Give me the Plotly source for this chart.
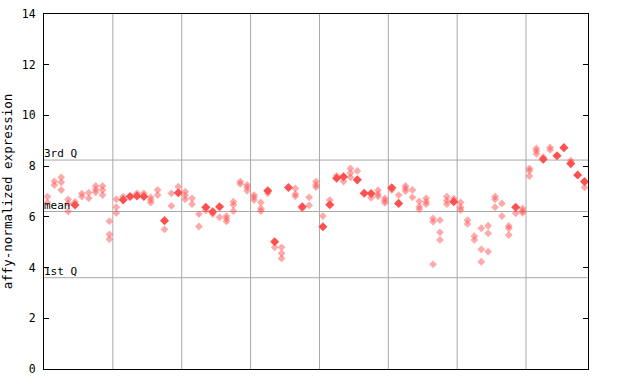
import plotly.graph_objects as go

# Per-sample replicate values (light/checkered diamonds) and solid diamonds
checker_vals = [
    [6.8, 6.57], [7.4, 7.25], [7.56, 7.36, 7.06], [6.69, 6.53, 6.21], [6.59],
    [6.92, 6.8], [6.95, 6.73], [7.22, 7.08, 6.97], [7.22, 7.06, 6.86], [5.83, 5.31, 5.12],
    [6.69, 6.38, 6.15], [6.8], [], [6.93], [6.93],
    [6.77, 6.66, 6.56], [7.06, 6.86], [5.51], [6.93, 6.43], [7.19],
    [6.99, 6.85, 6.69], [6.73, 6.5], [6.11, 5.62], [6.25], [6.11],
    [5.98], [6.03, 5.93, 5.82], [6.6, 6.47, 6.23], [7.39, 7.3], [7.26, 7.16, 7.03],
    [6.86, 6.77, 6.66], [6.57, 6.33, 6.23], [6.93], [4.8], [4.8, 4.56, 4.36],
    [], [7.12, 6.9, 6.81], [6.33], [6.77, 6.45], [7.39, 7.26, 7.17],
    [6.03], [6.66], [7.62], [7.39], [7.91, 7.73, 7.56],
    [7.81], [], [6.75], [7.05, 6.9, 6.81], [6.73, 6.64, 6.55],
    [7.06], [6.86], [7.22, 7.12, 7.02], [7.06, 6.77], [6.61, 6.4, 6.3],
    [6.73, 6.6, 6.5], [5.94, 5.81, 4.13], [5.87, 5.39, 5.09], [6.8, 6.64, 6.5], [6.72],
    [6.57, 6.38, 6.27], [5.87, 5.72], [5.24, 5.09], [5.55, 4.72, 4.23], [5.65, 5.35, 4.63],
    [6.8, 6.69, 6.38], [6.53, 6.03], [5.64, 5.55, 5.28], [6.14], [6.33, 6.23, 6.16],
    [7.91, 7.82, 7.61], [8.7, 8.6, 8.48], [8.35], [8.74, 8.64], [],
    [], [8.22], [], [7.16],
]
solid_vals = [
    [], [], [], [], [6.47],
    [], [], [], [], [],
    [], [6.67], [6.8], [6.82], [6.8],
    [], [], [5.85], [], [6.95],
    [], [], [], [6.38], [6.2],
    [6.4], [], [], [], [],
    [], [], [7.03], [5.02], [],
    [7.16], [], [6.4], [], [],
    [5.61], [6.48], [7.52], [7.58], [],
    [7.46], [6.93], [6.92], [], [],
    [7.15], [6.53], [], [], [],
    [], [], [], [], [6.6],
    [], [], [], [], [],
    [], [], [], [6.38], [],
    [], [], [8.27], [], [8.41],
    [8.73], [8.1], [7.65], [7.39],
]

quartile_labels = ["3rd Q", "mean", "1st Q"]
quartile_values = [8.24, 6.21, 3.6]
y_ticks = [0, 2, 4, 6, 8, 10, 12, 14]
group_lines = [10, 20, 30, 40, 50, 60, 70]
n_samples = len(checker_vals)

def flatten(groups):
    xs, ys = [], []
    for i, vals in enumerate(groups):
        for v in vals:
            xs.append(i + 0.5)
            ys.append(v)
    return xs, ys

cx, cy = flatten(checker_vals)
sx, sy = flatten(solid_vals)

mono = "DejaVu Sans Mono"
fig = go.Figure()

for gx in group_lines:
    fig.add_shape(type="line", x0=gx, x1=gx, y0=0, y1=14, xref="x", yref="y",
                  line=dict(color="#a8a8a8", width=1), layer="below")
for qv in quartile_values:
    fig.add_shape(type="line", x0=0, x1=n_samples, y0=qv, y1=qv, xref="x", yref="y",
                  line=dict(color="#a8a8a8", width=1), layer="below")

fig.add_trace(go.Scatter(x=cx, y=cy, mode="markers",
                         marker=dict(symbol="diamond", size=6, color="rgba(255,85,85,0.5)",
                                     line=dict(width=0)),
                         hoverinfo="y", showlegend=False))
fig.add_trace(go.Scatter(x=sx, y=sy, mode="markers",
                         marker=dict(symbol="diamond", size=7, color="#ff5050",
                                     line=dict(width=0)),
                         hoverinfo="y", showlegend=False))

for lab, qv in zip(quartile_labels, quartile_values):
    fig.add_annotation(x=0, xref="paper", y=qv, yref="y", text=lab, showarrow=False,
                       xanchor="left", yanchor="bottom", xshift=-2, yshift=-2,
                       font=dict(family=mono, size=11, color="black"))

fig.update_layout(
    width=640, height=384,
    margin=dict(l=44, r=52, t=14, b=15, autoexpand=False),
    paper_bgcolor="white", plot_bgcolor="white",
    font=dict(family=mono, size=11, color="black"),
)
fig.update_xaxes(range=[0, n_samples], showgrid=False, zeroline=False,
                 showticklabels=False, ticks="", automargin=False,
                 showline=True, linecolor="black", linewidth=1, mirror=True)
fig.update_yaxes(range=[0, 14], tickvals=y_ticks, showgrid=False, zeroline=False,
                 ticks="inside", ticklen=5, tickcolor="black", automargin=False,
                 ticklabelstandoff=5,
                 showline=True, linecolor="black", linewidth=1, mirror="ticks",
                 tickfont=dict(family=mono, size=11.5),
                 title=dict(text="affy-normalized expression", standoff=6,
                            font=dict(family=mono, size=12.5)))

fig.write_html("out.html", config={"displayModeBar": False},
               post_script="document.body.style.margin='0';")
